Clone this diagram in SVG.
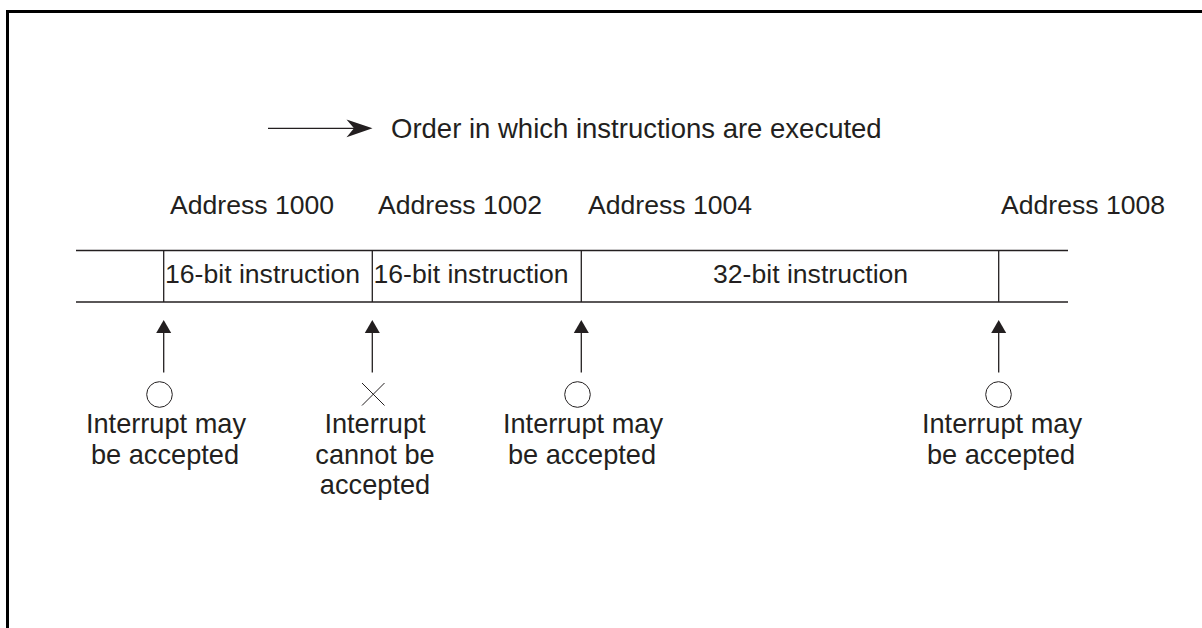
<svg xmlns="http://www.w3.org/2000/svg" width="1202" height="628" viewBox="0 0 1202 628">
<defs>
<style>
text{font-family:"Liberation Sans",Arial,sans-serif;font-size:26.6px;fill:#231f20}
.big{font-size:27.5px}
.lbl{font-size:27.2px;text-anchor:middle}
.ln{stroke:#231f20;stroke-width:1.3;fill:none}
.thin{stroke:#231f20;stroke-width:1;fill:none}
.head{fill:#231f20;stroke:none}
</style>
</defs>
<rect width="1202" height="628" fill="#fff"/>
<path d="M7.5 628 V11.5 H1202" stroke="#000" stroke-width="3" fill="none"/>

<g id="legend">
<line class="ln" x1="268" y1="128.3" x2="356" y2="128.3"/>
<path class="head" d="M372.5 128.3 L346.5 119.5 L354 128.3 L346.5 137.2 Z"/>
<text class="big" x="391" y="138">Order in which instructions are executed</text>
</g>

<g id="addresses">
<text x="170" y="214">Address 1000</text>
<text x="378" y="214">Address 1002</text>
<text x="588" y="214">Address 1004</text>
<text x="1001" y="214">Address 1008</text>
</g>

<g id="instruction-strip">
<line class="ln" x1="76" y1="250.5" x2="1068" y2="250.5"/>
<line class="ln" x1="76" y1="302" x2="1068" y2="302"/>
<line class="ln" x1="163.7" y1="250.5" x2="163.7" y2="302"/>
<line class="ln" x1="372.3" y1="250.5" x2="372.3" y2="302"/>
<line class="ln" x1="581.3" y1="250.5" x2="581.3" y2="302"/>
<line class="ln" x1="998.7" y1="250.5" x2="998.7" y2="302"/>
</g>
<g id="instr1"><text x="165" y="283">16-bit instruction</text></g>
<g id="instr2"><text x="373.5" y="283">16-bit instruction</text></g>
<g id="instr3"><text x="713" y="283">32-bit instruction</text></g>

<g id="connectors">
<line class="ln" x1="163.7" y1="372.5" x2="163.7" y2="332"/>
<path class="head" d="M163.7 320 L171.2 333 L156.2 333 Z"/>
<line class="ln" x1="372.3" y1="372.5" x2="372.3" y2="332"/>
<path class="head" d="M372.3 320 L379.8 333 L364.8 333 Z"/>
<line class="ln" x1="581.3" y1="372.5" x2="581.3" y2="332"/>
<path class="head" d="M581.3 320 L588.8 333 L573.8 333 Z"/>
<line class="ln" x1="998.7" y1="372.5" x2="998.7" y2="332"/>
<path class="head" d="M998.7 320 L1006.2 333 L991.2 333 Z"/>
</g>

<g id="point1">
<circle class="thin" cx="159.5" cy="394.5" r="12.8"/>
<text class="lbl" x="166" y="433">Interrupt may</text>
<text class="lbl" x="165" y="463.5">be accepted</text>
</g>
<g id="point2">
<path class="thin" d="M362 383 L384.5 405.5 M384.5 383 L362 405.5"/>
<text class="lbl" x="375" y="433">Interrupt</text>
<text class="lbl" x="375" y="463.5">cannot be</text>
<text class="lbl" x="375" y="494">accepted</text>
</g>
<g id="point3">
<circle class="thin" cx="577.5" cy="394.5" r="12.8"/>
<text class="lbl" x="583" y="433">Interrupt may</text>
<text class="lbl" x="582" y="463.5">be accepted</text>
</g>
<g id="point4">
<circle class="thin" cx="998.5" cy="394.5" r="12.8"/>
<text class="lbl" x="1002" y="433">Interrupt may</text>
<text class="lbl" x="1001" y="463.5">be accepted</text>
</g>
</svg>
